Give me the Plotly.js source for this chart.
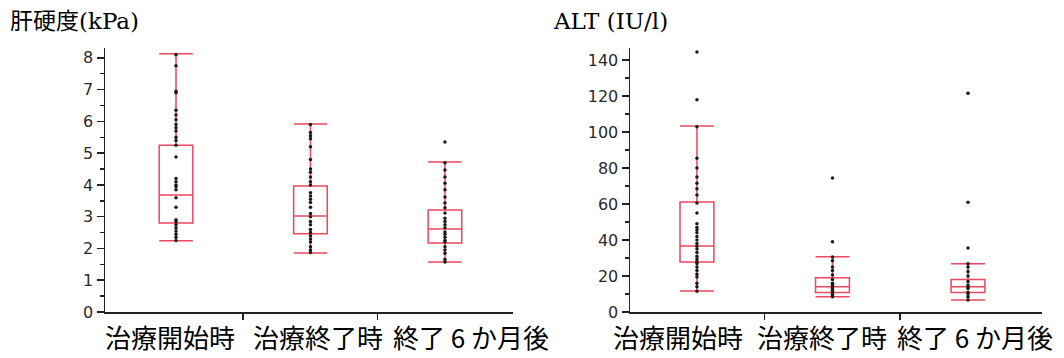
<!DOCTYPE html>
<html>
<head>
<meta charset="utf-8">
<script src="https://cdn.plot.ly/plotly-3.0.1.min.js"></script>
<style>html,body{margin:0;padding:0;background:#fff;}#chart{width:1064px;height:358px;}</style>
</head>
<body>
<div id="chart"></div>
<script>
// ---- data ----
const categories = ['治療開始時', '治療終了時', '終了 6 か月後'];

// Liver stiffness (kPa) box statistics
const stiffLower  = [2.24, 1.86, 1.57];
const stiffQ1     = [2.80, 2.46, 2.17];
const stiffMedian = [3.68, 3.02, 2.61];
const stiffQ3     = [5.25, 3.97, 3.21];
const stiffUpper  = [8.13, 5.92, 4.72];
// Liver stiffness individual points
const stiffStart = [8.1, 7.75, 6.95, 6.9, 6.35, 6.2, 6.05, 5.9, 5.8, 5.7, 5.5, 5.4, 5.25, 4.88, 4.2, 4.1, 4.0, 3.95, 3.85, 3.6, 3.3, 2.9, 2.85, 2.75, 2.65, 2.55, 2.45, 2.35, 2.25];
const stiffEnd   = [5.9, 5.65, 5.55, 5.45, 5.2, 4.8, 4.5, 4.4, 4.25, 4.1, 4.0, 3.75, 3.65, 3.55, 3.45, 3.3, 3.1, 3.0, 2.85, 2.75, 2.6, 2.5, 2.4, 2.3, 2.2, 2.05, 1.95, 1.87];
const stiff6m    = [5.35, 4.7, 4.47, 4.25, 4.05, 3.85, 3.62, 3.43, 3.28, 3.12, 2.95, 2.85, 2.75, 2.65, 2.52, 2.45, 2.35, 2.25, 2.2, 2.05, 1.95, 1.85, 1.65, 1.57];

// ALT (IU/l) box statistics
const altLower  = [11.7, 8.5, 6.7];
const altQ1     = [27.8, 10.9, 10.9];
const altMedian = [36.7, 14.1, 14.1];
const altQ3     = [61.1, 19.1, 18.1];
const altUpper  = [103.3, 30.7, 26.8];
// ALT individual points
const altStart = [144.5, 118, 103, 85.5, 80, 75, 71.5, 68.5, 65, 60.5, 55, 49, 47, 45.5, 44, 42, 40, 38, 36.5, 35, 33, 31, 29.5, 28, 27, 25, 23, 21, 19.5, 16, 14, 11.5];
const altEnd   = [74.5, 39, 30.5, 28.5, 25, 23, 20.5, 18, 16, 15, 14, 13, 12, 11, 10, 9.5, 8.5];
const alt6m    = [121.5, 61, 35.5, 26.8, 25, 22.5, 20, 17, 15, 14, 13, 11, 10, 8.5, 6.7];

// ---- styles ----
const boxColor = 'rgb(238,70,92)';
const axisColor = '#222';
const tickFont = {family: 'DejaVu Sans, Verdana, sans-serif', size: 16, color: '#2a2a2a'};
const catFont = {family: 'Noto Sans CJK JP, sans-serif', size: 26, color: '#000'};
const titleFont = {family: 'DejaVu Serif, Noto Sans CJK JP, serif', size: 23, color: '#000'};

function pointsTrace(groups, xa, ya) {
  const xs = [], ys = [];
  groups.forEach((g, i) => g.forEach(v => { xs.push(i); ys.push(v); }));
  return {type: 'scatter', mode: 'markers', x: xs, y: ys, xaxis: xa, yaxis: ya,
    marker: {color: '#1a1a1a', size: 3.5, symbol: 'circle'}, hoverinfo: 'y', showlegend: false, cliponaxis: false};
}
function boxTrace(lo, q1, med, q3, up, xa, ya) {
  return {type: 'box', x: [0, 1, 2], lowerfence: lo, q1: q1, median: med, q3: q3, upperfence: up,
    xaxis: xa, yaxis: ya, boxpoints: false, width: 0.25, whiskerwidth: 1,
    line: {color: boxColor, width: 1.5}, fillcolor: 'rgba(0,0,0,0)', showlegend: false};
}

const traces = [
  boxTrace(stiffLower, stiffQ1, stiffMedian, stiffQ3, stiffUpper, 'x', 'y'),
  pointsTrace([stiffStart, stiffEnd, stiff6m], 'x', 'y'),
  boxTrace(altLower, altQ1, altMedian, altQ3, altUpper, 'x2', 'y2'),
  pointsTrace([altStart, altEnd, alt6m], 'x2', 'y2')
];

const W = 1064, H = 358;
const yBottom = (H - 312) / H, yTop = (H - 48) / H;

function xAxis(domain, range) {
  return {domain: domain, range: range, showgrid: false, zeroline: false, showline: true,
    linecolor: axisColor, linewidth: 1.5, tickmode: 'array', tickvals: [0.5, 1.5],
    ticks: 'outside', ticklen: 6, tickwidth: 1.5, tickcolor: axisColor, showticklabels: false, fixedrange: true};
}
function yAxis(anchor, range, dtick, minorDtick) {
  return {domain: [yBottom, yTop], range: range, anchor: anchor, showgrid: false, zeroline: false,
    showline: true, linecolor: axisColor, linewidth: 1.5, dtick: dtick, tick0: 0,
    ticks: 'outside', ticklen: 7, tickwidth: 1.5, tickcolor: axisColor, tickfont: tickFont,
    minor: {dtick: minorDtick, ticks: 'outside', ticklen: 4, tickwidth: 1.5, tickcolor: axisColor},
    fixedrange: true};
}

const leftShift = [-6, 8, 26];
const rightShift = [-19, -10, 7];
const annotations = [];
categories.forEach((c, i) => {
  annotations.push({text: c, xref: 'x', yref: 'paper', x: i, y: (H - 336) / H, xshift: leftShift[i],
    showarrow: false, font: catFont, xanchor: 'center', yanchor: 'middle'});
  annotations.push({text: c, xref: 'x2', yref: 'paper', x: i, y: (H - 336) / H, xshift: rightShift[i],
    showarrow: false, font: catFont, xanchor: 'center', yanchor: 'middle'});
});
annotations.push({text: '肝硬度(kPa)', xref: 'paper', yref: 'paper', x: 8 / W, y: (H - 21) / H,
  xanchor: 'left', yanchor: 'middle', showarrow: false, font: titleFont});
annotations.push({text: 'ALT (IU/l)', xref: 'paper', yref: 'paper', x: 551 / W, y: (H - 21) / H,
  xanchor: 'left', yanchor: 'middle', showarrow: false, font: titleFont});

const layout = {
  width: W, height: H, margin: {l: 0, r: 0, t: 0, b: 0},
  paper_bgcolor: '#fff', plot_bgcolor: '#fff', showlegend: false,
  xaxis: xAxis([105 / W, 513 / W], [-0.528, 2.506]),
  yaxis: yAxis('x', [0, 8.31], 1, 0.5),
  xaxis2: xAxis([630 / W, 1042 / W], [-0.494, 2.546]),
  yaxis2: yAxis('x2', [0, 146.7], 20, 10),
  annotations: annotations
};

Plotly.newPlot('chart', traces, layout, {displayModeBar: false, staticPlot: true});
</script>
</body>
</html>
